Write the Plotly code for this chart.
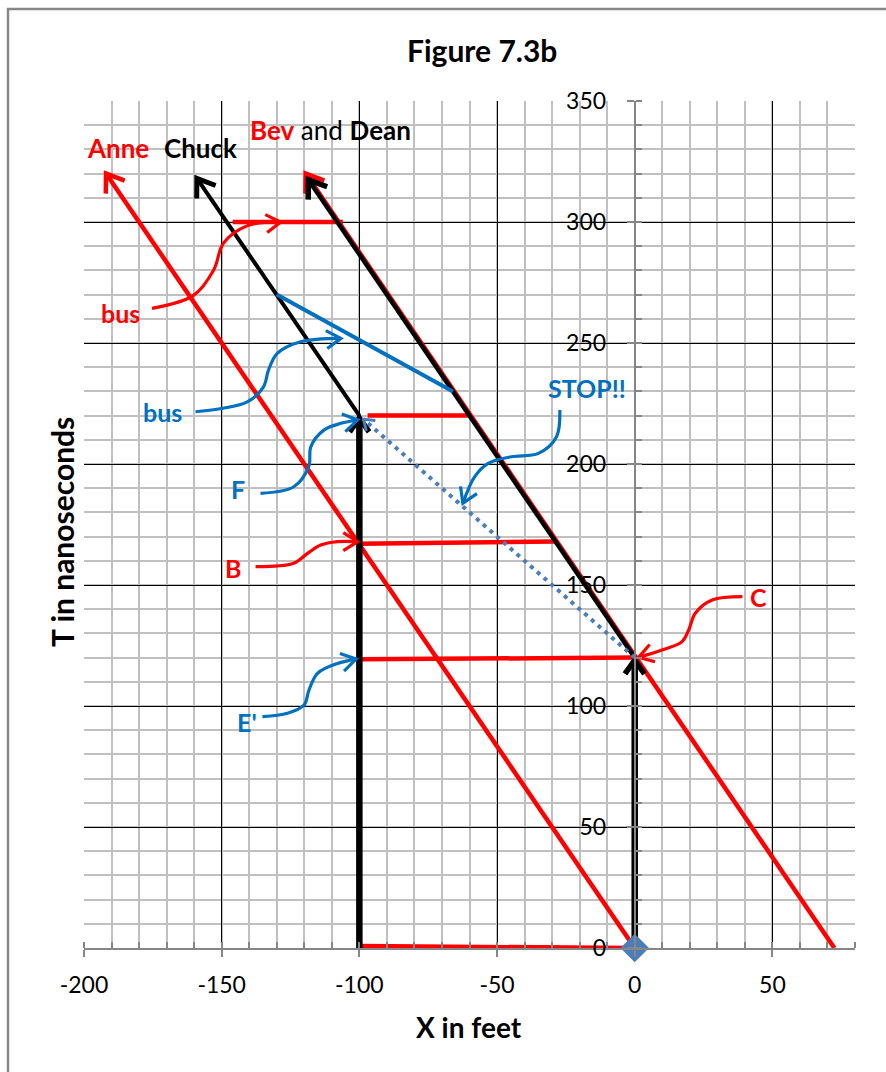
import math
import plotly.graph_objects as go

# ---- chart data (x in feet, T in nanoseconds) ----
x_range = [-200, 80]
t_range = [0, 350]
x_tick_vals = [-200, -150, -100, -50, 0, 50]
x_tick_text = ["-200", "-150", "-100", "-50", "0", "50"]
t_tick_vals = [0, 50, 100, 150, 200, 250, 300, 350]
t_tick_text = ["0", "50", "100", "150", "200", "250", "300", "350"]

# world lines
anne_x, anne_t = [0, -192], [0, 320]
bev_x, bev_t = [72.5, -119.5], [0, 320]
dean_x, dean_t = [0, -118.5], [120, 317.5]
chuck_x, chuck_t = [-100, -159], [220, 318]
rest_left_x, rest_left_t = [-100, -100], [0, 219]
rest_right_x, rest_right_t = [0, 0], [0, 119]

# red simultaneity segments: (x0, t0, x1, t1)
sim_x0 = [-100, -100, -100, -97, -146]
sim_t0 = [0.8, 119.3, 167, 220, 300]
sim_x1 = [-1, 0, -29, -60, -106]
sim_t1 = [0, 120, 168, 220, 300]

# blue bus line and dotted signal
bus_x, bus_t = [-130, -66], [270, 230]
signal_x, signal_t = [0, -98.5], [120, 218.5]

# origin event
origin_x, origin_t = [0], [0]

# callout labels: text, colour, x, t
label_text = ["bus", "bus", "F", "B", "E'", "STOP!!", "C"]
label_color = ["#ff0000", "#0070c0", "#0070c0", "#ff0000", "#0070c0", "#0070c0", "#ff0000"]
label_x = [-186.8, -171.5, -144.2, -145.8, -140.7, -17.4, 45.0]
label_t = [262.4, 221.5, 189.7, 156.9, 93.5, 231.3, 145.2]

# curved callout leaders (x list, t list), last point is the arrow tip
leader_x = [
    [-175.3, -160.1, -152.9, -149.3, -140.6, -128.6],
    [-159.5, -140.7, -134.8, -133.0, -129.8, -121.3, -106.7],
    [-135.9, -123.8, -118.4, -117.6, -112.9, -106.7, -100.6],
    [-137.7, -123.8, -118.8, -114.0, -107.9, -100.6],
    [-135.2, -126.1, -120.1, -118.3, -115.2, -107.9, -101.2],
    [-27.2, -28.4, -35.0, -44.8, -53.2, -58.1, -62.4],
    [39.1, 28.1, 22.0, 19.6, 17.2, 9.9, 1.4],
]
leader_t = [
    [264.3, 269.8, 280.2, 291.3, 298.5, 300.0],
    [221.6, 225.7, 231.9, 238.8, 245.7, 250.5, 251.9],
    [187.9, 190.6, 198.9, 207.2, 214.0, 216.8, 218.2],
    [157.6, 159.0, 163.1, 166.5, 167.9, 167.9],
    [95.6, 97.0, 100.4, 106.6, 113.5, 117.6, 119.4],
    [222.3, 211.3, 204.4, 203.0, 200.3, 194.8, 183.8],
    [145.2, 143.8, 138.3, 131.4, 126.6, 123.1, 120.1],
]

# ---- layout geometry ----
W, H = 886, 1072
M_L, M_R, M_T, M_B = 84, 31, 101, 124
PW, PH = W - M_L - M_R, H - M_T - M_B
SX = PW / (x_range[1] - x_range[0])   # px per foot
SY = PH / (t_range[1] - t_range[0])   # px per ns

RED = "#ff0000"
BLUE = "#0070c0"
STEEL = "#4a7ebb"
FONT = "Lato"

fig = go.Figure()


def seg(xs, ts, color, width, dash=None):
    fig.add_trace(go.Scatter(x=xs, y=ts, mode="lines",
                             line=dict(color=color, width=width, dash=dash),
                             hoverinfo="skip", showlegend=False))


def chevron(tip_x, tip_t, from_x, from_t, color, width, length=20, half_angle=35):
    """Open arrowhead at (tip_x, tip_t) pointing away from (from_x, from_t)."""
    dx = (tip_x - from_x) * SX
    dy = (tip_t - from_t) * SY
    n = math.hypot(dx, dy)
    ux, uy = dx / n, dy / n
    xs, ts = [], []
    for sgn in (1, -1):
        a = math.radians(half_angle) * sgn
        rx = ux * math.cos(a) - uy * math.sin(a)
        ry = ux * math.sin(a) + uy * math.cos(a)
        xs.append(tip_x - rx * length / SX)
        ts.append(tip_t - ry * length / SY)
    seg([xs[0], tip_x, xs[1]], [ts[0], tip_t, ts[1]], color, width)


def px_to_paper(px, py):
    return (px - M_L) / PW, (H - M_B - py) / PH


# red simultaneity lines
for x0, t0, x1, t1 in zip(sim_x0, sim_t0, sim_x1, sim_t1):
    seg([x0, x1], [t0, t1], RED, 4.5)

# Anne and Bev (red)
seg(anne_x, anne_t, RED, 4.5)
chevron(anne_x[1], anne_t[1], anne_x[0], anne_t[0], RED, 4.5)
seg(bev_x, bev_t, RED, 4.5)
chevron(bev_x[1], bev_t[1], bev_x[0], bev_t[0], RED, 4.5)

# Dean and Chuck (black)
seg(dean_x, dean_t, "black", 4.5)
chevron(dean_x[1], dean_t[1], dean_x[0], dean_t[0], "black", 5.5)
seg(chuck_x, chuck_t, "black", 4)
chevron(chuck_x[1], chuck_t[1], chuck_x[0], chuck_t[0], "black", 5)

# stationary world lines
seg(rest_left_x, rest_left_t, "black", 6.5)
chevron(rest_left_x[1], rest_left_t[1], rest_left_x[0], rest_left_t[0], "black", 5.5, length=17)
seg(rest_right_x, rest_right_t, "black", 6.5)
chevron(rest_right_x[1], rest_right_t[1], rest_right_x[0], rest_right_t[0], "black", 5.5, length=17)

# bus line and signal
seg(bus_x, bus_t, BLUE, 4)
seg(signal_x, signal_t, STEEL, 4, dash="4px,5px")
chevron(signal_x[1], signal_t[1], signal_x[0], signal_t[0], STEEL, 3, length=12)

# curved leaders
for xs, ts, col in zip(leader_x, leader_t, label_color):
    fig.add_trace(go.Scatter(x=xs, y=ts, mode="lines",
                             line=dict(color=col, width=3.2, shape="spline", smoothing=1.0),
                             hoverinfo="skip", showlegend=False))
    chevron(xs[-1], ts[-1], xs[-2], ts[-2], col, 3.2, length=17, half_angle=32)

# origin marker with a soft shadow
fig.add_trace(go.Scatter(x=[origin_x[0] + 0.8], y=[origin_t[0] - 1.2], mode="markers",
                         marker=dict(symbol="diamond", size=23, color="rgba(0,0,0,0.25)"),
                         hoverinfo="skip", showlegend=False, cliponaxis=False))
fig.add_trace(go.Scatter(x=origin_x, y=origin_t, mode="markers",
                         marker=dict(symbol="diamond", size=22, color=STEEL),
                         hoverinfo="skip", showlegend=False, cliponaxis=False))

annotations = []
for txt, col, x, t in zip(label_text, label_color, label_x, label_t):
    annotations.append(dict(x=x, y=t, xref="x", yref="y", text=f"<b>{txt}</b>",
                            xanchor="center", yanchor="middle",
                            showarrow=False, font=dict(family=FONT, size=25, color=col)))

annotations += [
    dict(x=-187.6, y=330.6, xref="x", yref="y", text="<b>Anne</b>", showarrow=False,
         xanchor="center", yanchor="middle", font=dict(family=FONT, size=26, color=RED)),
    dict(x=-157.6, y=330.6, xref="x", yref="y", text="<b>Chuck</b>", showarrow=False,
         xanchor="center", yanchor="middle", font=dict(family=FONT, size=26, color="black")),
    dict(x=-110.5, y=338, xref="x", yref="y",
         text="<span style='color:#ff0000'><b>Bev</b></span> and <b>Dean</b>",
         xanchor="center", yanchor="middle",
         showarrow=False, font=dict(family=FONT, size=26, color="black")),
]
tx, ty = px_to_paper(482, 50)
annotations.append(dict(x=tx, y=ty, xref="paper", yref="paper", text="<b>Figure 7.3b</b>",
                        xanchor="center", yanchor="middle", showarrow=False,
                        font=dict(family=FONT, size=30, color="black")))
tx, ty = px_to_paper(469, 1027)
annotations.append(dict(x=tx, y=ty, xref="paper", yref="paper", text="<b>X in feet</b>",
                        xanchor="center", yanchor="middle", showarrow=False,
                        font=dict(family=FONT, size=28, color="black")))
tx, ty = px_to_paper(62, 532)
annotations.append(dict(x=tx, y=ty, xref="paper", yref="paper", text="<b>T in nanoseconds</b>",
                        xanchor="center", yanchor="middle", showarrow=False, textangle=-90,
                        font=dict(family=FONT, size=30, color="black")))

# outer frame of the chart area
fx0, fy1 = px_to_paper(8, 9)
shapes = [dict(type="rect", xref="paper", yref="paper",
               x0=fx0, x1=1.3, y0=-0.3, y1=fy1,
               line=dict(color="#878787", width=2.5), layer="above")]

axis_gray = "#868686"
minor_cfg = dict(tickmode="linear", tick0=0, dtick=10, showgrid=True, gridcolor="#c0c0c0",
                 gridwidth=2, ticks="inside", ticklen=6, tickcolor=axis_gray, tickwidth=2)
fig.update_layout(
    width=W, height=H,
    margin=dict(l=M_L, r=M_R, t=M_T, b=M_B),
    paper_bgcolor="white", plot_bgcolor="white",
    showlegend=False, hovermode=False,
    annotations=annotations, shapes=shapes,
    xaxis=dict(range=x_range, tickmode="array", tickvals=x_tick_vals, ticktext=x_tick_text,
               showgrid=True, gridcolor="black", gridwidth=1,
               zeroline=False, showline=True, linecolor=axis_gray, linewidth=2,
               ticks="outside", ticklen=7, tickcolor=axis_gray, tickwidth=2,
               ticklabelstandoff=8,
               tickfont=dict(family=FONT, size=23, color="black"),
               minor=minor_cfg),
    yaxis=dict(range=t_range, tickmode="array", tickvals=t_tick_vals, ticktext=t_tick_text,
               showgrid=True, gridcolor="black", gridwidth=1,
               zeroline=False, showline=True, linecolor=axis_gray, linewidth=2,
               anchor="free", position=(0 - x_range[0]) / (x_range[1] - x_range[0]),
               ticks="outside", ticklen=7, tickcolor=axis_gray, tickwidth=2,
               ticklabelstandoff=16,
               tickfont=dict(family=FONT, size=23, color="black"),
               minor=minor_cfg),
)

fig.write_html("out.html")
